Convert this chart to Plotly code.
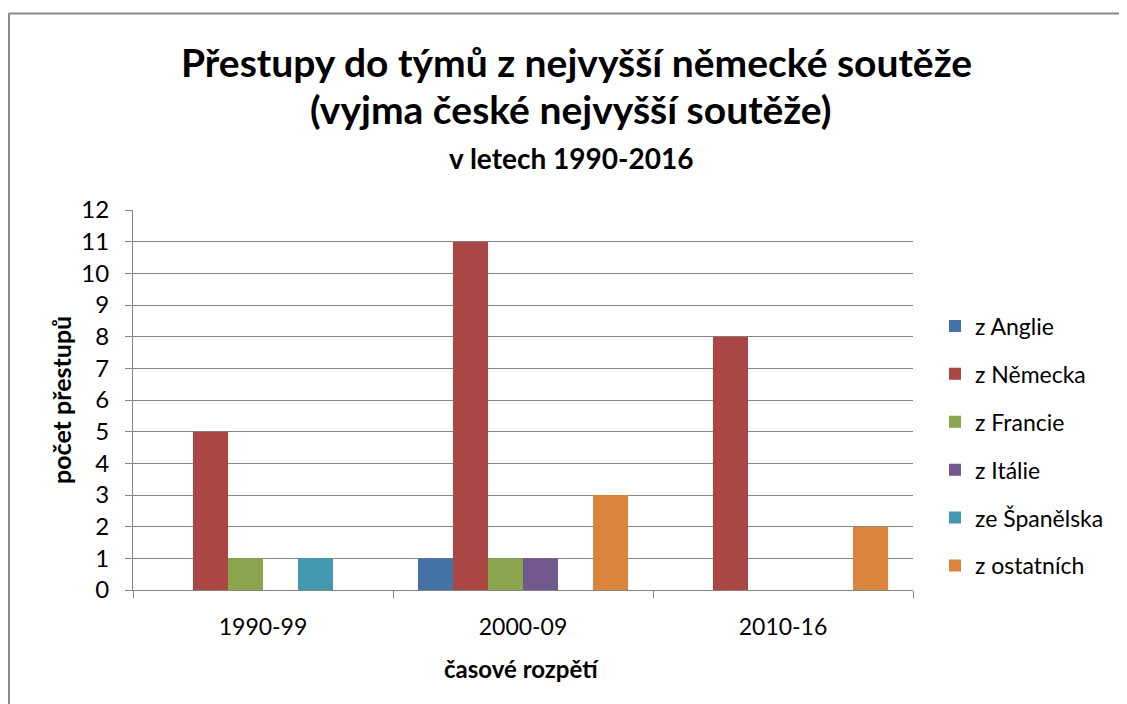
import plotly.graph_objects as go

categories = ["1990-99", "2000-09", "2010-16"]
series_names = ["z Anglie", "z Německa", "z Francie", "z Itálie", "ze Španělska", "z ostatních"]
anglie = [0, 1, 0]
nemecko = [5, 11, 8]
francie = [1, 1, 0]
italie = [0, 1, 0]
spanelsko = [1, 0, 0]
ostatni = [0, 3, 2]
colors = ["#4572A7", "#AA4643", "#89A54E", "#71588F", "#4198AF", "#DB843D"]
y_ticks = list(range(0, 13))

series_values = [anglie, nemecko, francie, italie, spanelsko, ostatni]

OFF = 8  # page body margin
W, H = 1127 - OFF, 704 - OFF
# plot area in page pixels: x 133..913, y 210..590
L, T = 133 - OFF, 210 - OFF
R = W - (913 - OFF)
B = H - (590 - OFF)
pw, ph = W - L - R, H - T - B

FONT = "Lato"
fig = go.Figure()
for i, (name, vals) in enumerate(zip(series_names, series_values)):
    fig.add_trace(go.Bar(x=categories, y=vals, name=name, marker_color=colors[i],
                         marker_line_width=0, legendgroup=f"g{i}"))

def px_x(x):
    return (x - OFF - L) / pw

def px_y(y):
    return (H - B - (y - OFF)) / ph

grid = "#868686"
fig.update_layout(
    width=W, height=H,
    margin=dict(l=L, r=R, t=T, b=B, pad=0),
    paper_bgcolor="white", plot_bgcolor="white",
    barmode="group", bargap=0.192, bargroupgap=0,
    font=dict(family=FONT, color="black", size=20),
    showlegend=True,
    legend=dict(x=px_x(935), y=px_y(446), xanchor="left", yanchor="middle",
                font=dict(family=FONT, size=23, color="black"),
                tracegroupgap=15, itemwidth=30, bgcolor="rgba(0,0,0,0)"),
    xaxis=dict(type="category", showgrid=False, showline=True, linecolor=grid, linewidth=1,
               ticks="outside", tickson="boundaries", ticklen=7, tickcolor=grid,
               tickfont=dict(family=FONT, size=23, color="black"),
               ticklabelstandoff=16, fixedrange=True),
    yaxis=dict(range=[0, 12], tickvals=y_ticks, showgrid=True, gridcolor=grid, gridwidth=1,
               showline=True, linecolor=grid, linewidth=1, ticks="outside", ticklen=7,
               tickcolor=grid, tickfont=dict(family=FONT, size=24, color="black"),
               ticklabelstandoff=11, zeroline=False, fixedrange=True),
)

anns = [
    ("Přestupy do týmů z nejvyšší německé soutěže", 576, 62, 39),
    ("(vyjma české nejvyšší soutěže)", 571, 109, 39),
    ("v letech 1990-2016", 571, 158, 28),
    ("časové rozpětí", 521, 668, 24),
]
for text, x, y, size in anns:
    fig.add_annotation(text=f"<b>{text}</b>", xref="paper", yref="paper",
                       x=px_x(x), y=px_y(y), xanchor="center", yanchor="middle",
                       showarrow=False, font=dict(family=FONT, size=size, color="black"))
fig.add_annotation(text="<b>počet přestupů</b>", xref="paper", yref="paper",
                   x=px_x(61), y=px_y(400), xanchor="center", yanchor="middle", textangle=-90,
                   showarrow=False, font=dict(family=FONT, size=25, color="black"))

# chart frame (top and left edges visible)
fig.add_shape(type="line", xref="paper", yref="paper", x0=px_x(8.5), x1=px_x(1140),
              y0=px_y(13.5), y1=px_y(13.5), line=dict(color="#898989", width=2))
fig.add_shape(type="line", xref="paper", yref="paper", x0=px_x(9), x1=px_x(9),
              y0=px_y(13.5), y1=px_y(720), line=dict(color="#898989", width=2))

fig.write_html("out.html")
